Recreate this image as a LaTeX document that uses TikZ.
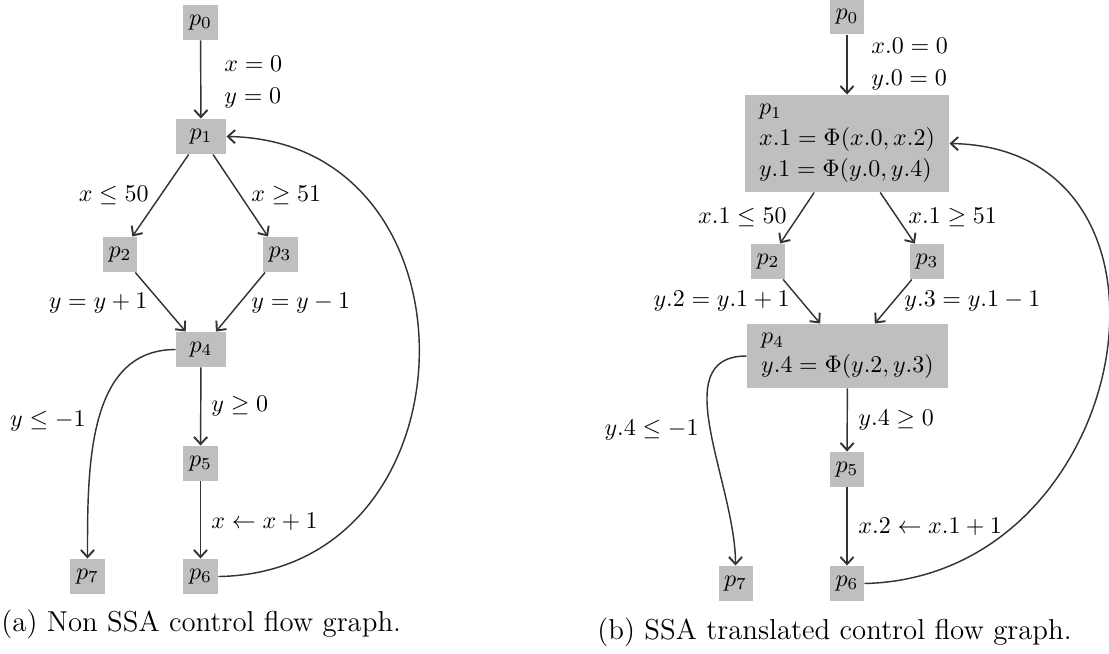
\documentclass[tikz,border=0pt]{standalone}
\usetikzlibrary{arrows.meta}
\begin{document}
\begin{tikzpicture}[x=0.41667pt,y=-0.41667pt,
  box/.style={fill=gray!50, inner sep=0pt, minimum width=14.58pt, minimum height=14.58pt},
  wbox/.style={box, minimum width=20.83pt},
  bigbox/.style={fill=gray!50, inner sep=0pt, align=left},
  lbl/.style={inner sep=0pt},
  arr/.style={draw=black!80, line width=0.6pt, -{Straight Barb[length=3pt,width=5.5pt,line width=0.8pt]}},
  captxt/.style={inner sep=0pt, font=\large, anchor=base west}]
\useasboundingbox (0,0) rectangle (1109,653);

% ---------- (a) ----------
\node[box]  (a0) at (200.5,22.5)  {$p_0$};
\node[wbox] (a1) at (201,136.5)   {$p_1$};
\node[box]  (a2) at (120,254.5)   {$p_2$};
\node[box]  (a3) at (280,254.5)   {$p_3$};
\node[wbox] (a4) at (201,349.5)   {$p_4$};
\node[box]  (a5) at (200.5,463.5) {$p_5$};
\node[box]  (a6) at (200.5,576.5) {$p_6$};
\node[box]  (a7) at (87.5,576.5)  {$p_7$};

\draw[arr] (a0) -- (a1);
\draw[arr] (a1) -- (a2);
\draw[arr] (a1) -- (a3);
\draw[arr] (a2) -- (a4);
\draw[arr] (a3) -- (a4);
\draw[arr] (a4) -- (a5);
\draw[arr] (a5) -- (a6);
\draw[arr] (a4.west) .. controls +(-89,0) and +(0,-89) .. (a7.north);
\draw[arr] (a6.east) .. controls +(262,-4) and +(262,4) .. (a1.east);

\node[lbl, anchor=base west] (la01a) at (224,71)  {$x=0$};
\node[lbl, anchor=base west] (la01b) at (224,103) {$y=0$};
\node[lbl, anchor=base east] (la12)  at (149,201) {$x\leq 50$};
\node[lbl, anchor=base west] (la13)  at (251,201) {$x\geq 51$};
\node[lbl, anchor=base east] (la24)  at (148,308) {$y=y+1$};
\node[lbl, anchor=base west] (la34)  at (251,308) {$y=y-1$};
\node[lbl, anchor=base west] (la45)  at (211,411) {$y\geq 0$};
\node[lbl, anchor=base east] (la47)  at (86,426)  {$y\leq -1$};
\node[lbl, anchor=base west] (la56)  at (211,528) {$x\leftarrow x+1$};

\node[captxt] (ca) at (1,631) {(a) Non SSA control flow graph.};

% ---------- (b) ----------
\node[box, minimum width=14.17pt] (b0) at (847,17) {$p_0$};
\node[bigbox, minimum width=85pt, minimum height=40.4pt] (b1) at (847,143.5)
  {$p_1$\\[1pt]$x.1=\Phi(x.0,x.2)$\\[1pt]$y.1=\Phi(y.0,y.4)$};
\node[box, minimum width=14.17pt] (b2) at (768,261.5) {$p_2$};
\node[box, minimum width=14.17pt] (b3) at (927,261.5) {$p_3$};
\node[bigbox, minimum width=83.75pt, minimum height=26.67pt] (b4) at (847.5,356)
  {$p_4$\\$y.4=\Phi(y.2,y.3)$};
\node[box, minimum width=14.17pt] (b5) at (847,469.5)   {$p_5$};
\node[box, minimum width=14.17pt] (b6) at (847,583.5)   {$p_6$};
\node[box, minimum width=14.17pt] (b7) at (735.5,583.5) {$p_7$};

\draw[arr] (b0) -- (b1);
\draw[arr] (b1) -- (b2);
\draw[arr] (b1) -- (b3);
\draw[arr] (b2) -- (b4);
\draw[arr] (b3) -- (b4);
\draw[arr] (b4) -- (b5);
\draw[arr] (b5) -- (b6);
\draw[arr] (b4.west) .. controls +(-82,0) and +(0,-82) .. (b7.north);
\draw[arr] (b6.east) .. controls +(270,-6) and +(258,4) .. (b1.east);

\node[lbl, anchor=base west] (lb01a) at (871,54)  {$x.0=0$};
\node[lbl, anchor=base west] (lb01b) at (871,85)  {$y.0=0$};
\node[lbl, anchor=base east] (lb12)  at (787,223) {$x.1\leq 50$};
\node[lbl, anchor=base west] (lb13)  at (908,223) {$x.1\geq 51$};
\node[lbl, anchor=base east] (lb24)  at (790,306) {$y.2=y.1+1$};
\node[lbl, anchor=base west] (lb34)  at (904,306) {$y.3=y.1-1$};
\node[lbl, anchor=base west] (lb45)  at (858,425) {$y.4\geq 0$};
\node[lbl, anchor=base east] (lb47)  at (699,435) {$y.4\leq -1$};
\node[lbl, anchor=base west] (lb56)  at (858,533) {$x.2\leftarrow x.1+1$};

\node[captxt] (cb) at (597,639) {(b) SSA translated control flow graph.};
\end{tikzpicture}
\end{document}
